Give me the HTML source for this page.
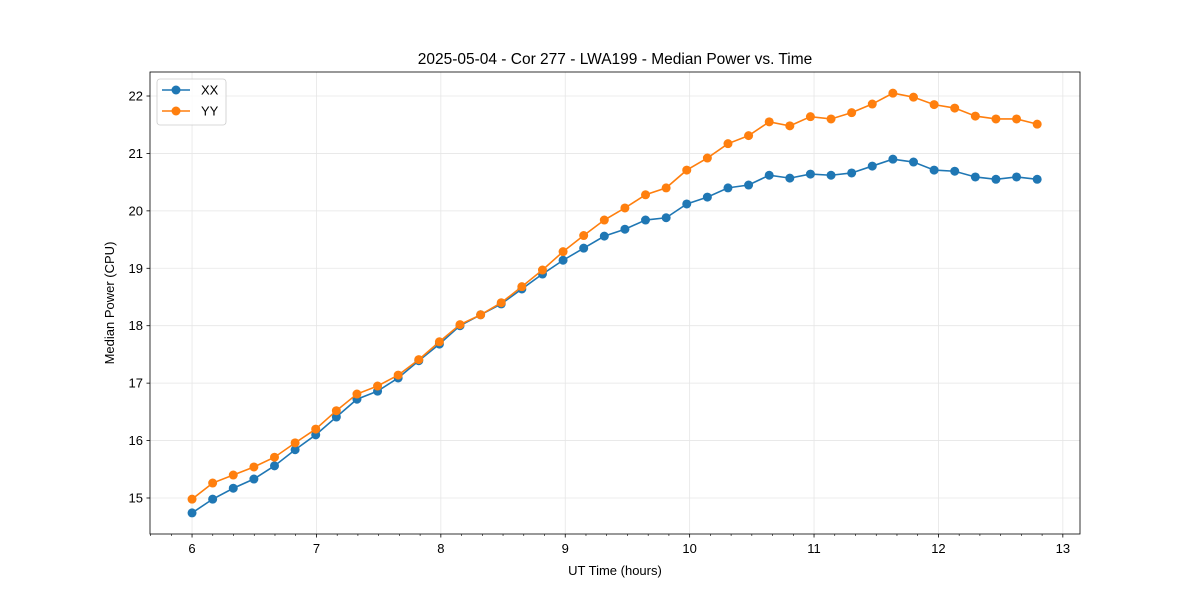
<!DOCTYPE html>
<html><head><meta charset="utf-8"><style>
body{margin:0;background:#fff;}
svg{display:block;font-family:"Liberation Sans","DejaVu Sans",sans-serif;}
</style></head><body>
<svg id="chart" width="1200" height="600"></svg>
<script>
const times=[];for(let i=0;i<42;i++)times.push(6+i*0.1657);
const xxValues=[14.74,14.98,15.17,15.33,15.56,15.84,16.10,16.41,16.72,16.86,17.09,17.39,17.68,18.00,18.19,18.38,18.64,18.90,19.14,19.35,19.56,19.68,19.84,19.88,20.12,20.24,20.40,20.45,20.62,20.57,20.64,20.62,20.66,20.78,20.90,20.85,20.71,20.69,20.59,20.55,20.59,20.55];
const yyValues=[14.98,15.26,15.40,15.54,15.71,15.96,16.20,16.52,16.81,16.95,17.14,17.41,17.72,18.02,18.19,18.40,18.68,18.97,19.29,19.57,19.84,20.05,20.28,20.40,20.71,20.92,21.17,21.31,21.55,21.48,21.64,21.60,21.71,21.86,22.05,21.98,21.85,21.79,21.65,21.60,21.60,21.51];
const xTicks=[6,7,8,9,10,11,12,13];
const yTicks=[15,16,17,18,19,20,21,22];
const L=150,R=1080,T=72,B=534;
const x0=5.662,x1=13.138,y0=14.373,y1=22.418;
const sx=v=>L+(v-x0)/(x1-x0)*(R-L);
const sy=v=>B-(v-y0)/(y1-y0)*(B-T);
const svg=document.getElementById('chart');
const NS='http://www.w3.org/2000/svg';
function mk(tag,attrs,parent){const e=document.createElementNS(NS,tag);for(const k in attrs)e.setAttribute(k,attrs[k]);(parent||svg).appendChild(e);return e;}
xTicks.forEach(t=>{const g=mk('line',{x1:sx(t),x2:sx(t),y1:T,y2:B,stroke:'#e6e6e6','stroke-width':0.8});

});
yTicks.forEach(t=>{const g=mk('line',{x1:L,x2:R,y1:sy(t),y2:sy(t),stroke:'#e6e6e6','stroke-width':0.8});

});
for(let k=34;k<=78;k++){const mm=k/6;if(k%6===0)continue;if(mm<x0||mm>x1)continue;
const e=mk('line',{x1:sx(mm),x2:sx(mm),y1:B,y2:B+2,stroke:'#000','stroke-width':0.6});

}
xTicks.forEach(t=>{const e=mk('line',{x1:sx(t),x2:sx(t),y1:B,y2:B+3.5,stroke:'#000','stroke-width':0.8});


const tx=mk('text',{x:sx(t),y:B+19,'text-anchor':'middle','font-size':13});tx.textContent=t;

});
yTicks.forEach(t=>{const e=mk('line',{x1:L-3.5,x2:L,y1:sy(t),y2:sy(t),stroke:'#000','stroke-width':0.8});


const tx=mk('text',{x:L-7,y:sy(t)+4.5,'text-anchor':'end','font-size':13});tx.textContent=t;

});
function series(vals,color,name){
const g=mk('g',{});


const pts=vals.map((v,i)=>sx(times[i])+','+sy(v)).join(' ');
const pl=mk('polyline',{points:pts,fill:'none',stroke:color,'stroke-width':1.6},g);


vals.forEach((v,i)=>{const c=mk('circle',{cx:sx(times[i]),cy:sy(v),r:4.5,fill:color},g);

});
}
series(xxValues,'#1f77b4','xx');
series(yyValues,'#ff7f0e','yy');
const fr=mk('rect',{x:L,y:T,width:R-L,height:B-T,fill:'none',stroke:'#000','stroke-width':0.8});


const ti=mk('text',{x:(L+R)/2,y:64,'text-anchor':'middle','font-size':15.5});ti.textContent='2025-05-04 - Cor 277 - LWA199 - Median Power vs. Time';


const xl=mk('text',{x:(L+R)/2,y:575,'text-anchor':'middle','font-size':13});xl.textContent='UT Time (hours)';


const yl=mk('text',{x:114,y:(T+B)/2,'text-anchor':'middle','font-size':13,transform:'rotate(-90 114 '+((T+B)/2)+')'});yl.textContent='Median Power (CPU)';


const lg=mk('g',{});


mk('rect',{x:157,y:79,width:69,height:46,rx:3,fill:'#fff','fill-opacity':0.8,stroke:'#ccc','stroke-width':0.8},lg);
[['XX','#1f77b4',90],['YY','#ff7f0e',111]].forEach(([n,c,y])=>{
const e=mk('g',{},lg);


mk('line',{x1:162,x2:190,y1:y,y2:y,stroke:c,'stroke-width':1.6},e);
mk('circle',{cx:176,cy:y,r:4.5,fill:c},e);
const t=mk('text',{x:201,y:y+4.5,'font-size':13},e);t.textContent=n;});
</script>
</body></html>
